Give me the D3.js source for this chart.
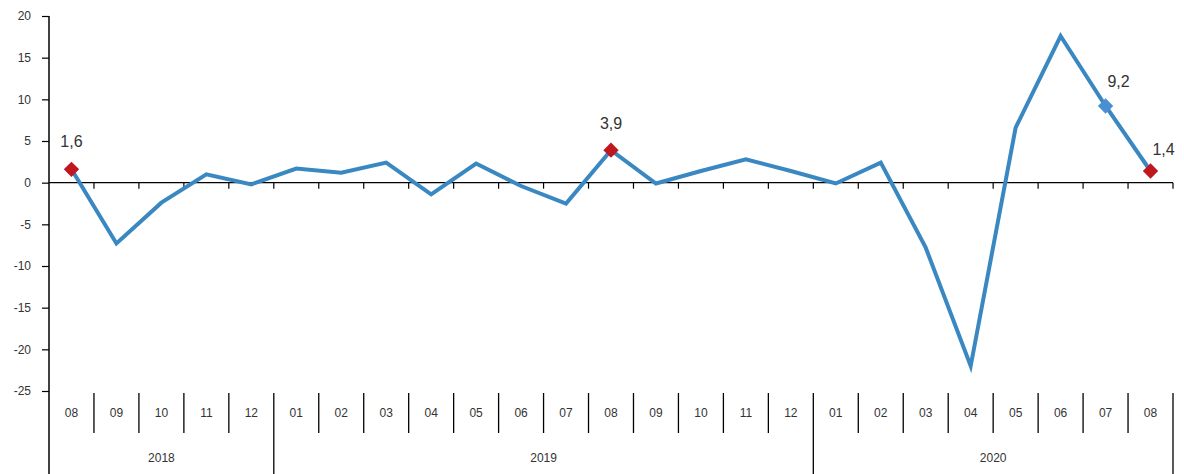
<!DOCTYPE html>
<html><head><meta charset="utf-8">
<script src="https://cdn.jsdelivr.net/npm/d3@7"></script>
<style>body{margin:0;background:#fff;} svg{display:block;}</style>
</head><body>
<svg id="c" width="1184" height="474"></svg>
<script>
const months = ["08","09","10","11","12","01","02","03","04","05","06","07","08","09","10","11","12","01","02","03","04","05","06","07","08"];
const years = ["2018","2019","2020"];
const yearCounts = [5,12,8];
const values = [1.6,-7.3,-2.4,1.0,-0.2,1.7,1.2,2.4,-1.4,2.3,-0.4,-2.5,3.9,-0.1,1.4,2.8,1.4,-0.1,2.4,-7.8,-22.0,6.6,17.6,9.2,1.4];
const yTicks = [20,15,10,5,0,-5,-10,-15,-20,-25];
const labelled = [{i:0,text:"1,6",col:"red"},{i:12,text:"3,9",col:"red"},{i:23,text:"9,2",col:"blue"},{i:24,text:"1,4",col:"red"}];

(function(){
const svg = d3.select("#c");
const pl = 49, pr = 1173, pt = 16, pb = 391;
const idx = d3.range(months.length);
const x = d3.scaleBand().domain(idx).range([pl,pr]).padding(0);
const y = d3.scaleLinear().domain([-25,20]).range([pb,pt]);
const cx = i => x(i) + x.bandwidth()/2;
const blue = "#3A88C2", red = "#C0161E", ink = "#333";
const font = "Liberation Sans, Arial, sans-serif";

// y axis
const ya = svg.append("g").attr("transform",`translate(${pl},0)`)
  .call(d3.axisLeft(y).tickValues(yTicks).tickSize(7).tickPadding(11).tickFormat(d=>d));
ya.select(".domain").remove();
ya.selectAll("line").attr("stroke","#000").attr("stroke-width",1.2);
ya.selectAll("text").attr("font-family",font).attr("font-size",12).attr("fill",ink);
svg.append("line").attr("x1",pl).attr("x2",pl).attr("y1",pt).attr("y2",474).attr("stroke","#000").attr("stroke-width",1.5);

// zero line with ticks
svg.append("line").attr("x1",pl).attr("x2",pr).attr("y1",y(0)).attr("y2",y(0)).attr("stroke","#000").attr("stroke-width",1.2);
const bounds = idx.map(i=>x(i)).concat([pr]);
svg.selectAll(".zt").data(bounds.slice(1)).enter().append("line")
  .attr("x1",d=>d).attr("x2",d=>d).attr("y1",y(0)).attr("y2",y(0)+6).attr("stroke","#000").attr("stroke-width",1.2);

// month labels + separators
svg.selectAll(".ml").data(idx).enter().append("text")
  .attr("x",cx).attr("y",417).attr("text-anchor","middle")
  .attr("font-family",font).attr("font-size",12).attr("fill",ink)
  .text(i=>months[i]);
let cum = 0; const yearBounds=[0];
yearCounts.forEach(c=>{cum+=c; yearBounds.push(cum);});
svg.selectAll(".ms").data(bounds.slice(1)).enter().append("line")
  .attr("x1",d=>d).attr("x2",d=>d).attr("y1",393).attr("y2",(d,k)=> yearBounds.includes(k+1) ? 474 : 433)
  .attr("stroke","#000").attr("stroke-width",1.3);
svg.selectAll(".yl").data(years).enter().append("text")
  .attr("x",(d,k)=> (x(yearBounds[k]) + (yearBounds[k+1]<months.length ? x(yearBounds[k+1]) : pr))/2)
  .attr("y",462).attr("text-anchor","middle")
  .attr("font-family",font).attr("font-size",12).attr("fill",ink)
  .text(d=>d);

// line
const line = d3.line().x(i=>cx(i)).y(i=>y(values[i]));
svg.append("path").datum(idx).attr("d",line).attr("fill","none").attr("stroke",blue).attr("stroke-width",4).attr("stroke-linejoin","miter");

// markers
const sym = d3.symbol().type(d3.symbolDiamond2).size(150);
svg.selectAll(".mk").data(labelled).enter().append("path")
  .attr("d",sym).attr("transform",d=>`translate(${cx(d.i)},${y(values[d.i])})`)
  .attr("fill",d=>d.col==="red"?red:"#4A90D0");
const off = {0:[0,-22],12:[0,-21],23:[13,-19],24:[13,-16]};
svg.selectAll(".dl").data(labelled).enter().append("text")
  .attr("x",d=>cx(d.i)+off[d.i][0]).attr("y",d=>y(values[d.i])+off[d.i][1])
  .attr("text-anchor","middle")
  .attr("font-family",font).attr("font-size",16).attr("fill",ink)
  .text(d=>d.text);
})();
</script>
</body></html>
